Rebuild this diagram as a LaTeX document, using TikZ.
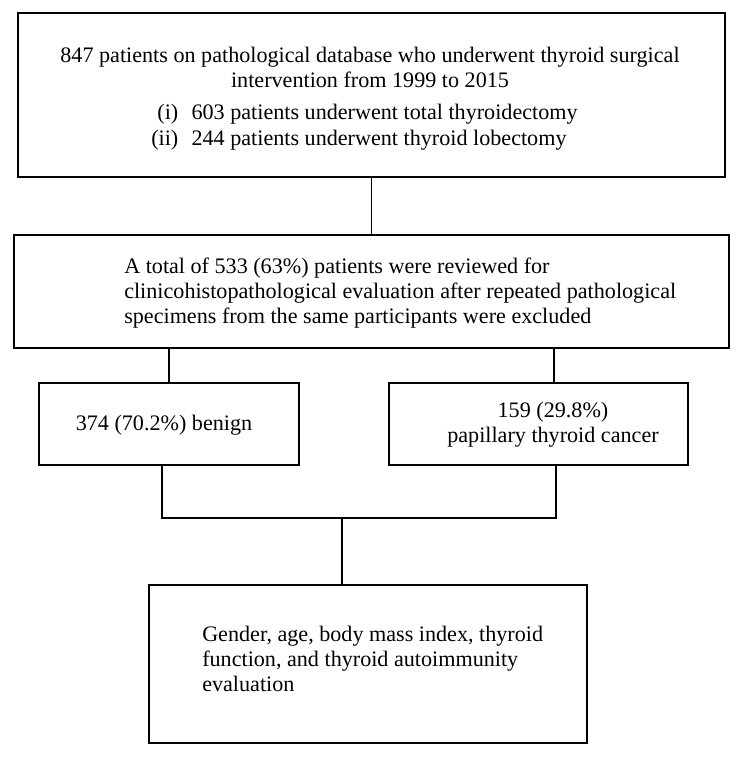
\documentclass[tikz,border=0pt]{standalone}
\usepackage{fontspec}
\setmainfont{Liberation Serif}
\usepackage{tikz}
\usetikzlibrary{positioning, calc}

\tikzset{
  flowbox/.style={draw, line width=0.9pt, inner sep=0pt},
  flowtext/.style={inner sep=0pt, font=\fontsize{16.6}{19}\selectfont},
  link/.style={line width=0.9pt}
}

\begin{document}
\begin{tikzpicture}[x=0.75pt, y=-0.75pt]
        \useasboundingbox (0,0) rectangle (744,758);

        % Boxes
        \node[flowbox, minimum width=530.25pt, minimum height=123pt] (source) at (371.5, 95) {};
        \node[flowbox, minimum width=536.25pt, minimum height=84.75pt] (review) at (371.5, 291.5) {};
        \node[flowbox, minimum width=195pt, minimum height=61.5pt] (benign) at (169, 424) {};
        \node[flowbox, minimum width=224.25pt, minimum height=61.5pt] (cancer) at (538.5, 424) {};
        \node[flowbox, minimum width=328.5pt, minimum height=118.5pt] (evaluation) at (368, 664) {};

        % Texts
        \node[flowtext, align=center] (sourcetext) at (370, 67.5) {847 patients on pathological database who underwent thyroid surgical\\intervention from 1999 to 2015};
        \node[flowtext, anchor=west] (sourcelist) at (151, 127.5) {\begin{tabular}{@{}r@{\hspace{0.6em}}l@{}}(i) & 603 patients underwent total thyroidectomy\\(ii) & 244 patients underwent thyroid lobectomy\end{tabular}};
        \node[flowtext, anchor=west, align=left] (reviewtext) at (124, 293) {A total of 533 (63\%) patients were reviewed for\\clinicohistopathological evaluation after repeated pathological\\specimens from the same participants were excluded};
        \node[flowtext] (benigntext) at (164, 425) {374 (70.2\%) benign};
        \node[flowtext, align=center] (cancertext) at (553, 425) {159 (29.8\%)\\papillary thyroid cancer};
        \node[flowtext, anchor=west, align=left] (evaluationtext) at (202, 659) {Gender, age, body mass index, thyroid\\function, and thyroid autoimmunity\\evaluation};

        % Connectors
        \coordinate (benignin) at (benign.north);
        \coordinate (cancerin) at ($(cancer.north)+(15.5,0)$);
        \coordinate (benignout) at ($(benign.south)+(-7,0)$);
        \coordinate (cancerout) at ($(cancer.south)+(17.5,0)$);
        \coordinate (join) at (342, 518);

        \draw[link] (source.south) -- (review.north);
        \draw[link] (benignin) -- (benignin |- review.south);
        \draw[link] (cancerin) -- (cancerin |- review.south);
        \draw[link] (benignout) |- (join) -| (cancerout);
        \draw[link] (join) -- (join |- evaluation.north);

\end{tikzpicture}
\end{document}
